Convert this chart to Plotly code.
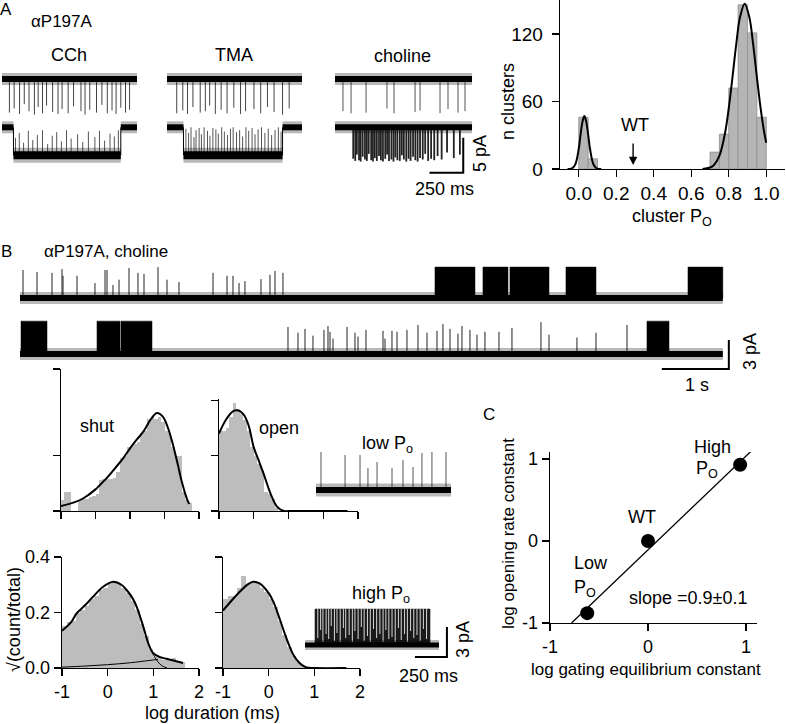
import plotly.graph_objects as go

W, H = 786, 724
FONT = "Arial, Liberation Sans, Helvetica, sans-serif"

# ------------------------------------------------------------------
# DATA
# ------------------------------------------------------------------
# Panel A (right): cluster Po histogram
po_bin_left = [0.00, 0.05, 0.70, 0.75, 0.80, 0.85, 0.90, 0.95]
po_counts = [46, 9, 15, 31, 72, 146, 121, 46]
po_bin_width = 0.05
po_fit_low_x = [-0.06, -0.04, -0.02, 0.0, 0.01, 0.02, 0.03, 0.04, 0.05, 0.06, 0.08, 0.10, 0.12]
po_fit_low_y = [0, 0.3, 3.6, 18, 31, 42, 47, 42, 31, 18, 3.6, 0.3, 0]
po_fit_high_x = [0.66, 0.70, 0.72, 0.75, 0.78, 0.80, 0.82, 0.84, 0.86, 0.885, 0.91, 0.93, 0.95, 0.97, 0.99, 1.0]
po_fit_high_y = [0.1, 1.3, 3.4, 11.7, 31.8, 54, 81.7, 111, 134.8, 147, 134.8, 111, 81.7, 54, 31.8, 23.4]
po_x_ticks = [0.0, 0.2, 0.4, 0.6, 0.8, 1.0]
po_x_ticktext = ["0.0", "0.2", "0.4", "0.6", "0.8", "1.0"]
po_y_ticks = [0, 60, 120]
wt_po = 0.29

# Panel A (left): single-channel sweeps, time (ms) / current (pA), openings downward
a_s1_level = 0.0
a_s2_closed = -6.9
a_s2_open = -10.9
cch_len = 1000
cch_s1_spikes = [(55, -4.8), (90, -4.2), (130, -5.0), (165, -3.6), (200, -4.6), (240, -5.1),
                 (268, -4.0), (300, -4.9), (330, -3.8), (375, -4.7), (415, -5.0), (445, -4.3),
                 (490, -4.9), (530, -3.9), (585, -4.6), (615, -5.1), (650, -4.4), (700, -4.8),
                 (740, -3.7), (780, -4.9), (815, -4.5), (845, -5.0), (880, -4.1), (915, -4.8), (945, -4.4)]
cch_s2_open = (85, 880)
cch_s2_closures = [(100, 2.5), (128, 3.2), (160, 1.8), (195, 3.5), (228, 2.2), (262, 2.9), (300, 3.6),
                   (338, 1.6), (372, 2.8), (405, 3.3), (440, 2.0), (478, 3.6), (512, 2.4), (560, 3.0),
                   (598, 1.9), (640, 3.4), (688, 2.6), (722, 3.5), (760, 2.1), (800, 3.1), (832, 2.7), (862, 3.6)]
tma_len = 1000
tma_s1_spikes = [(72, -4.9), (117, -4.5), (152, -5.0), (192, -4.0), (246, -4.8), (284, -4.6), (316, -3.8),
                 (358, -5.0), (401, -4.4), (445, -4.9), (495, -4.1), (545, -5.0), (582, -4.6), (644, -4.3),
                 (694, -4.9), (744, -4.0), (793, -4.7), (856, -5.1), (905, -4.2)]
tma_s2_open = (122, 856)
tma_s2_closures = [(140, 3.8), (160, 3.2), (178, 4.0), (200, 2.6), (215, 3.6), (238, 3.9), (255, 3.0),
                   (275, 4.0), (300, 3.5), (318, 2.8), (340, 3.9), (362, 3.7), (380, 3.1), (405, 4.0),
                   (425, 3.4), (448, 2.9), (470, 3.8), (490, 4.0), (515, 3.3), (538, 3.6), (560, 2.7),
                   (585, 4.0), (605, 3.5), (630, 3.9), (652, 3.0), (675, 3.7), (700, 4.0), (725, 3.2),
                   (750, 3.8), (775, 2.9), (800, 3.6), (825, 4.0), (845, 3.4)]
chol_len = 1015
chol_s1_spikes = [(59, -4.6), (119, -4.9), (230, -4.8), (385, -4.2), (437, -4.9), (593, -4.7),
                  (630, -4.5), (778, -4.9), (837, -4.3), (911, -4.8), (963, -4.6)]
chol_s2_openings = [(135, -4.5), (150, -4.8), (162, -3.9), (178, -4.7), (190, -4.9), (205, -4.2),
                    (222, -4.6), (236, -4.8), (250, -3.8), (268, -4.7), (281, -4.9), (295, -4.4),
                    (310, -4.8), (326, -4.1), (340, -4.7), (355, -4.9), (372, -4.5), (386, -3.9),
                    (400, -4.8), (418, -4.6), (433, -4.9), (447, -4.3), (462, -4.7), (480, -4.8),
                    (495, -4.0), (510, -4.6), (528, -4.9), (545, -4.5), (560, -4.8), (578, -4.2),
                    (595, -4.7), (612, -4.9), (630, -4.4), (650, -4.6), (668, -3.8), (690, -4.8),
                    (712, -4.5), (735, -4.7), (760, -4.1), (790, -4.6), (830, -3.6), (880, -4.4), (925, -3.9)]
a_scalebar_t = (700, 950)      # 250 ms
a_scalebar_i = (-13.4, -8.4)   # 5 pA

# Panel B: long recording (s, pA), openings upward
b_len = 10.49
b_tr2_offset = -5.79
b_tr1_spikes = [(0.045, 2.9), (0.254, 2.7), (0.478, 2.6), (0.627, 3.0), (0.642, 2.3), (0.851, 2.3),
                (1.119, 1.55), (1.269, 2.9), (1.299, 2.9), (1.388, 1.35), (1.478, 1.9), (1.627, 3.1),
                (1.761, 2.6), (1.851, 2.5), (2.060, 3.2), (2.194, 1.9), (2.373, 1.65), (2.881, 2.6),
                (3.090, 2.3), (3.179, 2.3), (3.269, 1.55), (3.358, 1.75), (3.597, 1.95), (3.731, 2.4),
                (3.806, 2.8), (3.925, 2.6)]
b_tr1_bursts = [(6.194, 6.791), (6.910, 7.284), (7.313, 7.896), (8.149, 8.597), (9.970, 10.49)]
b_tr2_spikes = [(4.000, 2.8), (4.149, 2.2), (4.254, 2.6), (4.373, 1.9), (4.537, 2.5), (4.597, 2.9),
                (4.627, 2.3), (4.672, 1.6), (4.881, 2.8), (5.000, 2.2), (5.045, 1.8), (5.164, 2.5),
                (5.418, 2.4), (5.448, 1.6), (5.552, 2.4), (5.627, 2.3), (5.776, 2.5), (5.940, 3.0),
                (6.075, 2.2), (6.224, 2.4), (6.313, 3.1), (6.418, 2.6), (6.537, 2.1), (6.597, 2.9),
                (6.716, 2.5), (6.821, 2.0), (6.940, 2.3), (7.149, 2.3), (7.343, 2.7), (7.776, 3.3),
                (7.896, 2.0), (8.313, 1.7), (8.597, 2.2), (9.060, 3.0)]
b_tr2_bursts = [(0.015, 0.403), (1.149, 1.493), (1.507, 1.970), (9.358, 9.687)]
b_burst_amp1 = 3.2
b_burst_amp2 = 3.4
b_scalebar_t = (9.58, 10.58)   # 1 s
b_scalebar_i = (-7.34, -4.34)  # 3 pA

# Dwell-time histograms: log duration (ms) vs sqrt(count/total)
hist_bin_width = 0.1
shut_lo_x = [-0.95, -0.85, -0.75, -0.65, -0.55, -0.45, -0.35, -0.25, -0.15, -0.05, 0.05, 0.15, 0.25,
             0.35, 0.45, 0.55, 0.65, 0.75, 0.85, 0.95, 1.05, 1.15, 1.25, 1.35, 1.45, 1.55, 1.65, 1.75,
             1.85, 1.95, 2.05, 2.15, 2.25, 2.35, 2.45, 2.55, 2.65, 2.75]
shut_lo_y = [0.04, 0.07, 0.07, 0.0, 0.0, 0.04, 0.045, 0.045, 0.05, 0.055, 0.06, 0.11, 0.115, 0.115,
             0.115, 0.12, 0.14, 0.19, 0.2, 0.23, 0.23, 0.24, 0.25, 0.28, 0.29, 0.33, 0.34, 0.33, 0.34,
             0.32, 0.29, 0.28, 0.23, 0.2, 0.2, 0.07, 0.04, 0.03]
shut_lo_fit_x = [-1.0, -0.6, -0.35, 0.0, 0.13, 0.35, 0.565, 0.8, 1.0, 1.2, 1.386, 1.6, 1.78, 1.95,
                 2.1, 2.26, 2.4, 2.5, 2.66, 2.72]
shut_lo_fit_y = [0.018, 0.032, 0.046, 0.078, 0.094, 0.122, 0.154, 0.19, 0.226, 0.258, 0.286, 0.33,
                 0.353, 0.34, 0.3, 0.232, 0.16, 0.106, 0.04, 0.025]
open_lo_x = [-0.95, -0.85, -0.75, -0.65, -0.55, -0.45, -0.35, -0.25, -0.15, -0.05, 0.05, 0.15, 0.25,
             0.35, 0.45, 0.55, 0.65]
open_lo_y = [0.29, 0.29, 0.3, 0.34, 0.39, 0.37, 0.35, 0.33, 0.29, 0.23, 0.2, 0.17, 0.15, 0.07, 0.06,
             0.045, 0.01]
open_lo_fit_x = [-1.0, -0.8, -0.6, -0.47, -0.3, -0.15, 0.0, 0.15, 0.28, 0.48, 0.67, 0.87, 1.0, 2.7]
open_lo_fit_y = [0.28, 0.33, 0.36, 0.364, 0.35, 0.31, 0.23, 0.18, 0.136, 0.064, 0.016, 0.0, 0.0, 0.0]
shut_hi_x = [-0.95, -0.85, -0.75, -0.65, -0.55, -0.45, -0.35, -0.25, -0.15, -0.05, 0.05, 0.15, 0.25,
             0.35, 0.45, 0.55, 0.65, 0.75, 0.85, 0.95, 1.05, 1.15, 1.25, 1.35, 1.45, 1.55, 1.65]
shut_hi_y = [0.15, 0.165, 0.17, 0.2, 0.21, 0.225, 0.25, 0.26, 0.28, 0.29, 0.31, 0.315, 0.305, 0.29,
             0.27, 0.24, 0.21, 0.16, 0.115, 0.07, 0.04, 0.035, 0.03, 0.03, 0.035, 0.025, 0.02]
shut_hi_fit_x = [-1.0, -0.8, -0.68, -0.5, -0.32, -0.1, 0.12, 0.3, 0.415, 0.55, 0.634, 0.78, 0.89, 1.0,
                 1.15, 1.29, 1.44, 1.65]
shut_hi_fit_y = [0.134, 0.165, 0.197, 0.225, 0.257, 0.293, 0.311, 0.3, 0.281, 0.25, 0.221, 0.149,
                 0.089, 0.053, 0.039, 0.033, 0.027, 0.018]
shut_hi_c1_x = [0.9, 1.0, 1.1, 1.2, 1.3]
shut_hi_c1_y = [0.083, 0.048, 0.022, 0.007, 0.0]
shut_hi_c2_x = [-1.0, -0.5, 0.0, 0.5, 0.9, 1.1]
shut_hi_c2_y = [0.003, 0.007, 0.012, 0.019, 0.027, 0.031]
open_hi_x = [-0.95, -0.85, -0.75, -0.65, -0.55, -0.45, -0.35, -0.25, -0.15, -0.05, 0.05, 0.15, 0.25,
             0.35, 0.45, 0.55, 0.65, 0.75]
open_hi_y = [0.25, 0.26, 0.26, 0.29, 0.33, 0.3, 0.31, 0.305, 0.29, 0.275, 0.25, 0.22, 0.17, 0.12,
             0.075, 0.045, 0.02, 0.008]
open_hi_fit_x = [-1.0, -0.8, -0.6, -0.45, -0.34, -0.2, 0.0, 0.1, 0.25, 0.35, 0.46, 0.55, 0.68, 0.83,
                 1.0, 1.7]
open_hi_fit_y = [0.207, 0.245, 0.28, 0.302, 0.311, 0.305, 0.27, 0.24, 0.173, 0.125, 0.077, 0.045,
                 0.017, 0.002, 0.0, 0.0]

# Example traces next to histograms (ms, pA), openings upward
lowpo_len = 1055
lowpo_spikes = [(39, 3.8), (227, 3.5), (344, 3.5), (406, 2.2), (477, 2.8), (594, 2.2), (680, 3.0),
                (758, 2.3), (828, 3.7), (906, 3.8), (1016, 3.8)]
hipo_len = 1047
hipo_cluster = (78, 977)
hipo_amp = 3.6
hipo_closures = [(100, 3.0), (122, 2.2), (140, 3.4), (165, 2.6), (185, 3.1), (205, 1.8), (230, 3.3),
                 (250, 2.5), (275, 3.4), (300, 2.0), (318, 3.0), (345, 2.7), (370, 3.4), (390, 2.3),
                 (415, 3.1), (440, 1.9), (462, 3.3), (488, 2.8), (510, 3.4), (535, 2.1), (560, 3.0),
                 (585, 2.6), (610, 3.4), (632, 2.2), (655, 3.1), (680, 2.9), (705, 3.4), (730, 2.0),
                 (752, 3.2), (778, 2.6), (800, 3.4), (825, 2.3), (850, 3.0), (875, 2.7), (900, 3.3),
                 (925, 2.1), (950, 3.1)]
hipo_scalebar_t = (859, 1109)  # 250 ms
hipo_scalebar_i = (-1.2, 1.8)  # 3 pA

# Panel C
c_labels = ["Low Po", "WT", "High Po"]
c_x = [-0.62, 0.0, 0.94]
c_y = [-0.88, 0.0, 0.93]
c_fit_x = [-0.78, 1.10]
c_fit_y = [-1.0, 1.15]

# ------------------------------------------------------------------
# FIGURE
# ------------------------------------------------------------------
fig = go.Figure()


def xd(x0, x1):
    return [x0 / W, x1 / W]


def yd(top, bottom):
    return [1 - bottom / H, 1 - top / H]


def axn(n, c):
    return c if n == 1 else f"{c}{n}"


def line(xs, ys, n, color="black", width=1.0, shape="linear", fill=None, fillcolor=None):
    fig.add_trace(go.Scatter(x=xs, y=ys, mode="lines",
                             line=dict(color=color, width=width, shape=shape),
                             fill=fill, fillcolor=fillcolor,
                             xaxis=axn(n, "x"), yaxis=axn(n, "y"),
                             hoverinfo="skip", showlegend=False))


def spikes(events, base, n, color="#333333", width=1.0):
    xs, ys = [], []
    for t, a in events:
        xs += [t, t, None]
        ys += [base, base + a, None]
    line(xs, ys, n, color=color, width=width)


def band(t0, t1, level, n, w_out=12, w_in=6):
    line([t0, t1], [level, level], n, color="rgba(0,0,0,0.28)", width=w_out)
    line([t0, t1], [level, level], n, color="black", width=w_in)


def blocks(intervals, lo, hi, n, color="black"):
    xs, ys = [], []
    for a, b in intervals:
        xs += [a, b, b, a, a, None]
        ys += [lo, lo, hi, hi, lo, None]
    line(xs, ys, n, color=color, width=0.5, fill="toself", fillcolor=color)


def bars(xc, yv, w, n, color="#bdbdbd", lw=0, lc="#bdbdbd"):
    fig.add_trace(go.Bar(x=xc, y=yv, width=w, marker=dict(color=color, line=dict(width=lw, color=lc)),
                         xaxis=axn(n, "x"), yaxis=axn(n, "y"), hoverinfo="skip", showlegend=False))


# ---- Panel A sweeps (axes 1,2,3) ----
for n, s1, s2open, s2cl, length in [(1, cch_s1_spikes, cch_s2_open, cch_s2_closures, cch_len),
                                     (2, tma_s1_spikes, tma_s2_open, tma_s2_closures, tma_len)]:
    spikes(s1, a_s1_level, n, color="#444444")
    band(0, length, a_s1_level, n)
    spikes(s2cl, a_s2_open, n, color="#555555")
    band(0, s2open[0], a_s2_closed, n)
    band(s2open[1], length, a_s2_closed, n)
    line([s2open[0], s2open[0]], [a_s2_closed, a_s2_open], n, width=1)
    line([s2open[1], s2open[1]], [a_s2_closed, a_s2_open], n, width=1)
    band(s2open[0], s2open[1], a_s2_open, n, w_out=15, w_in=8)

spikes(chol_s1_spikes, a_s1_level, 3, color="#555555")
band(0, chol_len, a_s1_level, 3)
spikes(chol_s2_openings, a_s2_closed, 3, color="#222222", width=1.8)
band(0, chol_len, a_s2_closed, 3)
line([a_scalebar_t[0], a_scalebar_t[1], a_scalebar_t[1]],
     [a_scalebar_i[0], a_scalebar_i[0], a_scalebar_i[1]], 3, width=2)

# ---- Panel A histogram (axis 4) ----
bars([b + po_bin_width / 2 for b in po_bin_left], po_counts, po_bin_width, 4,
     color="#b5b5b5", lw=0.8, lc="#8f8f8f")
line(po_fit_low_x, po_fit_low_y, 4, width=2, shape="spline")
line(po_fit_high_x, po_fit_high_y, 4, width=2, shape="spline")
fig.add_annotation(x=wt_po, y=3.5, ax=wt_po, ay=24, xref="x4", yref="y4", axref="x4", ayref="y4",
                   text="", showarrow=True, arrowhead=2, arrowsize=1.2, arrowwidth=1.4, arrowcolor="black")

# ---- Panel B traces (axis 5) ----
blocks(b_tr1_bursts, 0, b_burst_amp1, 5)
blocks(b_tr2_bursts, b_tr2_offset, b_tr2_offset + b_burst_amp2, 5)
spikes(b_tr1_spikes, 0, 5, color="#222222")
spikes(b_tr2_spikes, b_tr2_offset, 5, color="#222222")
band(0, b_len, 0, 5, w_out=12, w_in=6)
band(0, b_len, b_tr2_offset, 5, w_out=12, w_in=6)
line([b_scalebar_t[0], b_scalebar_t[1], b_scalebar_t[1]],
     [b_scalebar_i[0], b_scalebar_i[0], b_scalebar_i[1]], 5, width=2)

# ---- Dwell-time histograms (axes 6-9) ----
bars(shut_lo_x, shut_lo_y, hist_bin_width, 6)
line(shut_lo_fit_x, shut_lo_fit_y, 6, width=2, shape="spline")
bars(open_lo_x, open_lo_y, hist_bin_width, 7)
line(open_lo_fit_x, open_lo_fit_y, 7, width=2, shape="spline")
bars(shut_hi_x, shut_hi_y, hist_bin_width, 8)
line(shut_hi_c2_x, shut_hi_c2_y, 8, width=1, shape="spline")
line(shut_hi_c1_x, shut_hi_c1_y, 8, width=1, shape="spline")
line(shut_hi_fit_x, shut_hi_fit_y, 8, width=2, shape="spline")
bars(open_hi_x, open_hi_y, hist_bin_width, 9)
line(open_hi_fit_x, open_hi_fit_y, 9, width=2, shape="spline")

# ---- low / high Po traces (axes 10, 11) ----
spikes(lowpo_spikes, 0, 10, color="#555555")
band(0, lowpo_len, 0, 10, w_out=13, w_in=6)
blocks([hipo_cluster], 0, hipo_amp, 11, color="#1a1a1a")
xs, ys = [], []
for t, d in hipo_closures:
    xs += [t, t, None]
    ys += [hipo_amp + 0.1 - d, hipo_amp + 0.1, None]
line(xs, ys, 11, color="#d8d8d8", width=1.0)
band(0, hipo_len, 0, 11, w_out=10, w_in=5)
line([hipo_scalebar_t[0], hipo_scalebar_t[1], hipo_scalebar_t[1]],
     [hipo_scalebar_i[0], hipo_scalebar_i[0], hipo_scalebar_i[1]], 11, width=2)

# ---- Panel C (axis 12) ----
line(c_fit_x, c_fit_y, 12, width=1.3)
fig.add_trace(go.Scatter(x=c_x, y=c_y, mode="markers", marker=dict(color="black", size=14),
                         xaxis="x12", yaxis="y12", hoverinfo="skip", showlegend=False))

# ------------------------------------------------------------------
# AXES
# ------------------------------------------------------------------
def hidden(dom, rng, anchor):
    return dict(domain=dom, range=rng, visible=False, fixedrange=True, anchor=anchor)


def shown(dom, rng, anchor, tickvals, ticktext=None, labels=True, size=18):
    d = dict(domain=dom, range=rng, anchor=anchor, showline=True, linecolor="black", linewidth=1.3,
             ticks="outside", ticklen=7, tickwidth=1.3, tickcolor="black", showgrid=False,
             zeroline=False, tickvals=tickvals, showticklabels=labels, fixedrange=True,
             automargin=False, tickfont=dict(family=FONT, size=size, color="black"))
    if ticktext is not None:
        d["ticktext"] = ticktext
    return d


layout = dict(width=W, height=H, margin=dict(l=0, r=0, t=0, b=0, pad=0, autoexpand=False),
              paper_bgcolor="white", plot_bgcolor="white", showlegend=False, bargap=0,
              font=dict(family=FONT, color="black"))

A_Y = (62, 180)
A_YR = [-14.43, 2.43]
layout["xaxis"] = hidden(xd(2, 137), [0, 1000], "y")
layout["yaxis"] = hidden(yd(*A_Y), A_YR, "x")
layout["xaxis2"] = hidden(xd(167, 302), [0, 1000], "y2")
layout["yaxis2"] = hidden(yd(*A_Y), A_YR, "x2")
layout["xaxis3"] = hidden(xd(335, 475), [0, 1037], "y3")
layout["yaxis3"] = hidden(yd(*A_Y), A_YR, "x3")

layout["xaxis4"] = shown(xd(560, 785), [-0.1, 1.1], "y4", po_x_ticks, po_x_ticktext, size=19)
layout["yaxis4"] = shown(yd(0.25, 169), [0, 150], "x4", po_y_ticks, [str(v) for v in po_y_ticks], size=19)
layout["yaxis4"]["ticklabelstandoff"] = 5

layout["xaxis5"] = hidden(xd(20, 735), [0, 10.672], "y5")
layout["yaxis5"] = hidden(yd(255, 372), [-7.65, 4.45], "x5")

logx = [-1, 0, 1, 2, 3]
layout["xaxis6"] = shown(xd(61, 199), [-1, 3], "y6", logx, labels=False)
layout["yaxis6"] = shown(yd(369, 511), [0, 0.512], "x6", [0, 0.2, 0.512], labels=False)
layout["xaxis7"] = shown(xd(219, 358), [-1, 3], "y7", logx, labels=False)
layout["yaxis7"] = shown(yd(399, 511), [0, 0.405], "x7", [0, 0.2, 0.4], labels=False)

logx2 = [-1, 0, 1, 2]
logx2_t = ["-1", "0", "1", "2"]
layout["xaxis8"] = shown(xd(62, 199), [-1, 2], "y8", logx2, logx2_t)
layout["yaxis8"] = shown(yd(557, 668), [0, 0.4], "x8", [0, 0.2, 0.4], ["0.0", "0.2", "0.4"])
layout["xaxis9"] = shown(xd(223, 360), [-1, 2], "y9", logx2, logx2_t)
layout["yaxis9"] = shown(yd(557, 668), [0, 0.4], "x9", [0, 0.2, 0.4], labels=False)

layout["xaxis10"] = hidden(xd(316, 451), [0, 1055], "y10")
layout["yaxis10"] = hidden(yd(440, 505), [-1.5, 5.0], "x10")
layout["xaxis11"] = hidden(xd(305, 450), [0, 1133], "y11")
layout["yaxis11"] = hidden(yd(595, 662), [-1.7, 5.0], "x11")

layout["xaxis12"] = shown(xd(550, 757), [-1, 1.112], "y12", [-1, 0, 1], ["-1", "0", "1"])
layout["yaxis12"] = shown(yd(452, 623), [-1, 1.085], "x12", [-1, 0, 1], ["-1", "0", "1"])

fig.update_layout(**layout)


# ------------------------------------------------------------------
# TEXT
# ------------------------------------------------------------------
def txt(s, x, y, size=18, angle=0, xanchor="center"):
    fig.add_annotation(text=s, x=x / W, y=1 - y / H, xref="paper", yref="paper", showarrow=False,
                       font=dict(family=FONT, size=size, color="black"), textangle=angle,
                       xanchor=xanchor, yanchor="middle")


txt("A", 6, 9, 17)
txt("αP197A", 62, 21, 17)
txt("CCh", 69, 55)
txt("TMA", 234, 55)
txt("choline", 403, 56)
txt("5 pA", 480, 154, 18, -90)
txt("250 ms", 444, 189)
txt("n clusters", 508, 102, 18, -90)
txt("cluster P<sub>O</sub>", 672, 217)
txt("WT", 635, 125)

txt("B", 6, 251, 17)
txt("αP197A, choline", 106, 251, 17)
txt("3 pA", 750, 352, 18, -90)
txt("1 s", 697, 385)

txt("shut", 97, 426)
txt("open", 279, 428)
txt("low P<sub>o</sub>", 387, 444)
txt("high P<sub>o</sub>", 381, 594)
txt("3 pA", 463, 639, 18, -90)
txt("250 ms", 428, 676)
txt("log duration (ms)", 212, 713)
txt("√(count/total)", 14, 620, 18, -90)

txt("C", 489, 414, 17)
txt("High", 712, 447)
txt("P<sub>O</sub>", 694, 470, xanchor="left")
txt("WT", 642, 517)
txt("Low", 572, 563, xanchor="left")
txt("P<sub>O</sub>", 572, 588, xanchor="left")
txt("slope =0.9±0.1", 688, 598)
txt("log opening rate constant", 508, 534, 17, -90)
txt("log gating equilibrium constant", 646, 669, 17)

fig.write_html("out.html", config={"displayModeBar": False, "staticPlot": True},
               post_script="document.body.style.margin='0px';document.body.style.padding='0px';"
                           "document.documentElement.style.overflow='hidden';")
